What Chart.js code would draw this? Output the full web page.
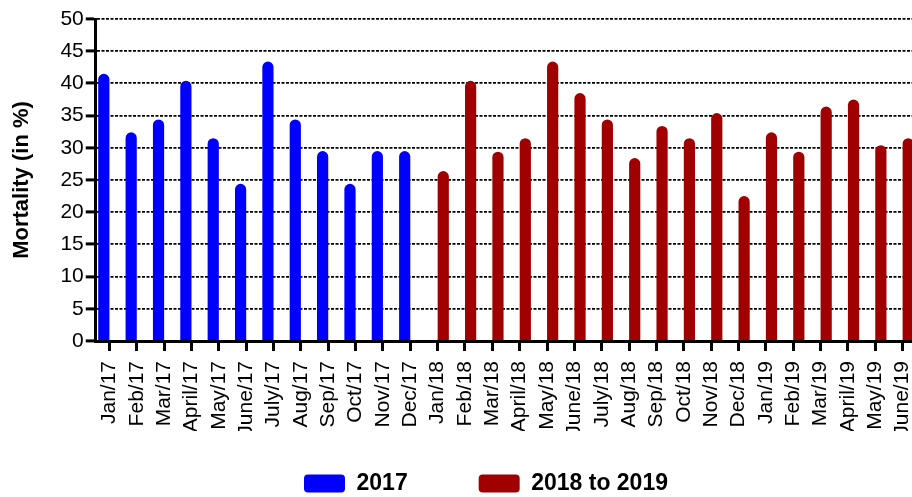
<!DOCTYPE html>
<html>
<head>
<meta charset="utf-8">
<script src="https://cdn.jsdelivr.net/npm/chart.js@4"></script>
<style>
html,body{margin:0;padding:0;overflow:hidden;background:#ffffff;}
#wrap{width:938px;height:497px;position:relative;}
</style>
</head>
<body>
<div id="wrap"><canvas id="c"></canvas></div>
<script>
const categories = [
  'Jan/17','Feb/17','Mar/17','April/17','May/17','June/17','July/17','Aug/17','Sep/17','Oct/17','Nov/17','Dec/17',
  'Jan/18','Feb/18','Mar/18','April/18','May/18','June/18','July/18','Aug/18','Sep/18','Oct/18','Nov/18','Dec/18',
  'Jan/19','Feb/19','Mar/19','April/19','May/19','June/19'
];
const seriesLabels = ['2017', '2018 to 2019'];
const values2017 = [41.5, 32.4, 34.4, 40.4, 31.5, 24.4, 43.4, 34.4, 29.5, 24.4, 29.5, 29.5];
const values2018to2019 = [26.4, 40.4, 29.4, 31.5, 43.4, 38.5, 34.4, 28.4, 33.4, 31.5, 35.4, 22.5, 32.4, 29.4, 36.4, 37.5, 30.4, 31.5];
const yMin = 0, yMax = 50, yStep = 5;
const yTitle = 'Mortality (in %)';

const colors = ['#0000ff', '#a00000'];
const FONT = "'Liberation Sans', Arial, Helvetica, sans-serif";

const data2017 = values2017.concat(new Array(categories.length - values2017.length).fill(null));
const data1819 = new Array(categories.length - values2018to2019.length).fill(null).concat(values2018to2019);

// nudge the legend block to where the reference places it (it overlaps the label band)
const legendShift = {
  id: 'legendShift',
  afterLayout(chart) {
    const l = chart.legend;
    if (!l) return;
    const dx = 18;
    const dy = -30;
    l.left += dx; l.right += dx;
    l.top += dy; l.height = l.bottom - l.top;
  }
};

new Chart(document.getElementById('c'), {
  type: 'bar',
  data: {
    labels: categories,
    datasets: [
      { label: seriesLabels[0], data: data2017, backgroundColor: colors[0], borderWidth: 0,
        borderRadius: 6, borderSkipped: 'start', categoryPercentage: 0.82, barPercentage: 1 },
      { label: seriesLabels[1], data: data1819, backgroundColor: colors[1], borderWidth: 0,
        borderRadius: 6, borderSkipped: 'start', categoryPercentage: 0.82, barPercentage: 1 }
    ]
  },
  options: {
    responsive: true,
    maintainAspectRatio: false,
    devicePixelRatio: 1,
    animation: false,
    layout: { padding: { top: 19, left: 9, right: 11, bottom: 0 } },
    plugins: {
      tooltip: { enabled: false },
      legend: {
        position: 'bottom',
        maxHeight: 66,
        labels: {
          boxWidth: 41,
          boxHeight: 18,
          useBorderRadius: true,
          borderRadius: 4,
          padding: 71,
          color: '#000000',
          font: { family: FONT, size: 23, weight: 'bold' }
        }
      }
    },
    scales: {
      x: {
        offset: true,
        afterFit(scale) { scale.height = 90; },
        grid: { display: true, drawOnChartArea: false, drawTicks: true, offset: false,
                tickLength: 10, tickWidth: 3, tickColor: '#000000' },
        border: { display: true, color: '#000000', width: 3, z: 1 },
        ticks: { autoSkip: false, minRotation: 90, maxRotation: 90, padding: 10,
                 color: '#000000', font: { family: FONT, size: 21 } }
      },
      y: {
        min: yMin, max: yMax,
        ticks: { stepSize: yStep, padding: 2, color: '#000000', font: { family: FONT, size: 21 } },
        grid: { color: '#000000', lineWidth: 1.8, drawTicks: true, tickLength: 10, tickWidth: 3,
                tickColor: '#000000', tickBorderDash: [] },
        border: { display: true, color: '#000000', width: 3, dash: [3, 1.5], z: 1 },
        title: { display: true, text: yTitle, color: '#000000', padding: { top: 0, bottom: 23 },
                 font: { family: FONT, size: 22, weight: 'bold' } }
      }
    }
  },
  plugins: [legendShift]
});
</script>
</body>
</html>
